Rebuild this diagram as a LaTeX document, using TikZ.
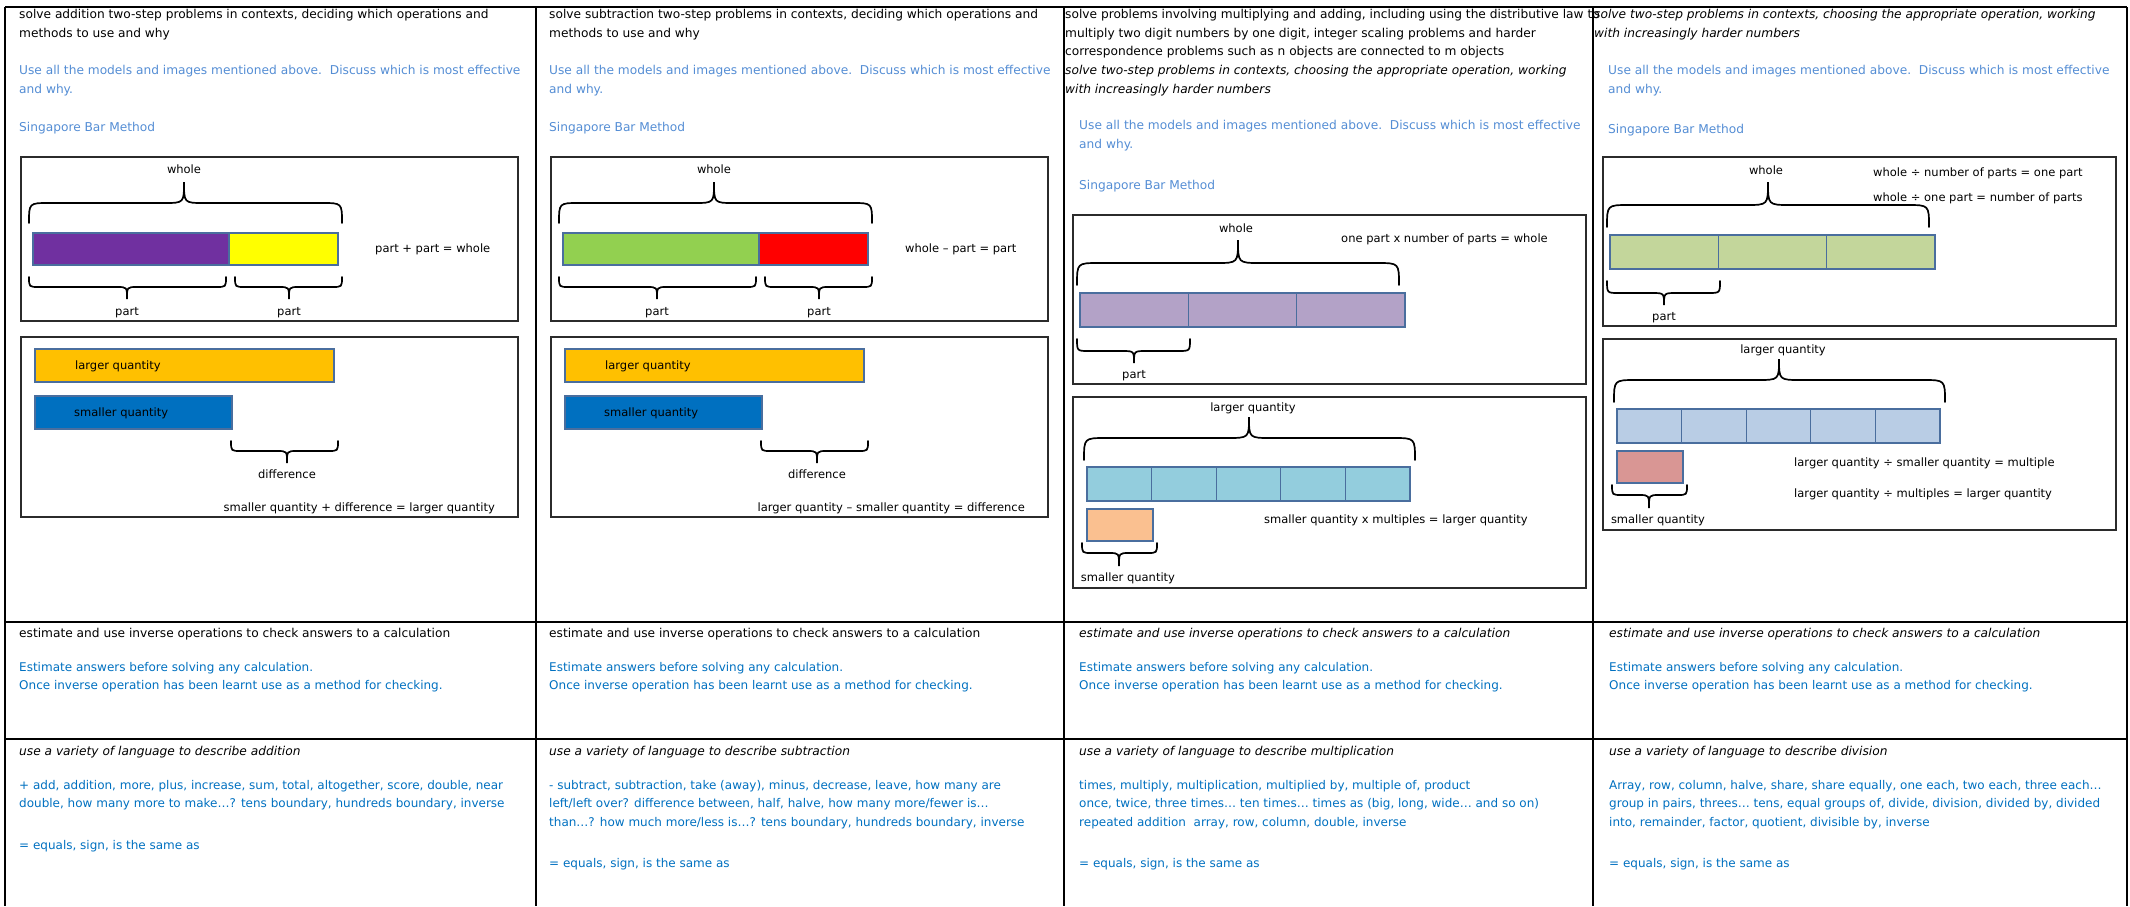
\documentclass[tikz,border=0pt]{standalone}
\usepackage{fontspec}
\setmainfont{DejaVu Sans}
\usetikzlibrary{positioning}
\definecolor{chint}{HTML}{548DD4}
\definecolor{cword}{HTML}{0070C0}
\definecolor{cedge}{HTML}{4A6E9E}
\definecolor{cpanel}{HTML}{2B2B2B}
\definecolor{cpurple}{HTML}{7030A0}
\definecolor{cyellow}{HTML}{FFFF00}
\definecolor{cgreen}{HTML}{92D050}
\definecolor{cred}{HTML}{FF0000}
\definecolor{cgold}{HTML}{FFC000}
\definecolor{cblue}{HTML}{0070C0}
\definecolor{clilac}{HTML}{B3A2C7}
\definecolor{caqua}{HTML}{93CDDD}
\definecolor{cpeach}{HTML}{FAC090}
\definecolor{csage}{HTML}{C3D69B}
\definecolor{csky}{HTML}{B9CDE5}
\definecolor{crose}{HTML}{D99694}
\tikzset{
  txt/.style={anchor=north west, align=left, inner sep=0pt, font=\fontsize{12.2}{18.6}\selectfont,
    execute at begin node=\strut},
  hdr/.style={txt, text=black},
  ital/.style={hdr, font=\fontsize{12.2}{18.6}\selectfont\itshape},
  hint/.style={txt, text=chint},
  words/.style={txt, text=cword, font=\fontsize{12}{18.6}\selectfont},
  lbl/.style={anchor=base, inner sep=0pt, font=\fontsize{11.5}{14}\selectfont},
  grid/.style={line width=2.4pt},
  panel/.style={draw=cpanel, line width=2pt},
  bar/.style={draw=cedge, line width=1.3pt},
  brc/.style={line width=1.7pt, line cap=round},
}

\begin{document}
\begin{tikzpicture}[x=1pt, y=-1pt]
  \useasboundingbox (0,0) rectangle (2130,906);
  % \cbrace{left x}{right x}{tip x}{end y}{flat y}{tip y}
  \newcommand{\cbrace}[6]{
    \draw[brc] (#1,#4) .. controls (#1,#5) .. ({#1+abs(#5-#4)},#5) -- ({#3-abs(#5-#4)},#5)
      .. controls (#3,#5) .. (#3,#6) .. controls (#3,#5) .. ({#3+abs(#5-#4)},#5)
      -- ({#2-abs(#5-#4)},#5) .. controls (#2,#5) .. (#2,#4);}
  % \addsubpanel{shift}{prefix}{left fill}{right fill}{part equation}{difference equation}
  \newcommand{\addsubpanel}[6]{
    \begin{scope}[shift={(#1,0)}]
      \draw[panel] (21,157) rectangle (518,321);
      \node[lbl] (#2whole) at (184,173) {whole};
      \cbrace{29}{342}{184}{223}{203}{182}
      \draw[bar, fill=#3] (33,233) rectangle (229,265);
      \draw[bar, fill=#4] (229,233) rectangle (338,265);
      \cbrace{29}{226}{127}{277}{287}{299}
      \cbrace{235}{342}{289}{277}{287}{299}
      \node[lbl] (#2partA) at (127,315) {part};
      \node[lbl] (#2partB) at (289,315) {part};
      \node[lbl, anchor=base west] (#2eqA) at (375,252) {#5};
      \draw[panel] (21,337) rectangle (518,517);
      \draw[bar, fill=cgold] (35,349) rectangle (334,382);
      \draw[bar, fill=cblue] (35,396) rectangle (232,429);
      \node[lbl, anchor=base west] (#2large) at (75,369) {larger quantity};
      \node[lbl, anchor=base west] (#2small) at (74,416) {smaller quantity};
      \cbrace{231}{338}{287}{441}{451}{463}
      \node[lbl] (#2diff) at (287,478) {difference};
      \node[lbl, anchor=base east] (#2eqB) at (495,511) {#6};
    \end{scope}}
  % \muldivpanel{shift}{prefix}{whole bar}{multiple bar}{small bar}
  \newcommand{\muldivpanel}[5]{
    \begin{scope}[shift={#1}]
      \draw[panel] (1073,215) rectangle (1586,384);
      \node[lbl] (#2whole) at (1236,232) {whole};
      \cbrace{1077}{1399}{1238}{285}{263}{240}
      \foreach \i in {0,1,2} \draw[bar, fill=#3] ({1080+\i*108.33},293) rectangle ++(108.33,34);
      \cbrace{1077}{1190}{1134}{339}{351}{363}
      \node[lbl] (#2part) at (1134,378) {part};
      \draw[panel] (1073,397) rectangle (1586,588);
      \node[lbl] (#2large) at (1253,411) {larger quantity};
      \cbrace{1084}{1415}{1249}{460}{438}{417}
      \foreach \i in {0,...,4} \draw[bar, fill=#4] ({1087+\i*64.6},467) rectangle ++(64.6,34);
      \draw[bar, fill=#5] (1087,509) rectangle (1153,541);
      \cbrace{1082}{1157}{1119}{543}{553}{566}
      \node[lbl] (#2small) at (1128,581) {smaller quantity};
    \end{scope}}

  % table rules
  \draw[grid] (5,7) -- (2127,7);
  \draw[grid] (5,622) -- (2127,622);
  \draw[grid] (5,739) -- (2127,739);
  \foreach \x in {5,536,1064,1593,2127} \draw[grid] (\x,7) -- (\x,906);

  % top row: headers
  \node[hdr] (h1) at (19,9) {solve addition two-step problems in contexts, deciding which operations and\\methods to use and why};
  \node[hdr] (h2) at (549,9) {solve subtraction two-step problems in contexts, deciding which operations and\\methods to use and why};
  \node[hdr] (h3) at (1065,9) {solve problems involving multiplying and adding, including using the distributive law to\\multiply two digit numbers by one digit, integer scaling problems and harder\\correspondence problems such as n objects are connected to m objects};
  \node[ital] (h3b) at (1065,65) {solve two-step problems in contexts, choosing the appropriate operation, working\\with increasingly harder numbers};
  \node[ital] (h4) at (1594,9) {solve two-step problems in contexts, choosing the appropriate operation, working\\with increasingly harder numbers};

  \node[hint] (u1) at (19,65) {Use all the models and images mentioned above.\ \ Discuss which is most effective\\and why.};
  \node[hint] (u2) at (549,65) {Use all the models and images mentioned above.\ \ Discuss which is most effective\\and why.};
  \node[hint] (u3) at (1079,120) {Use all the models and images mentioned above.\ \ Discuss which is most effective\\and why.};
  \node[hint] (u4) at (1608,65) {Use all the models and images mentioned above.\ \ Discuss which is most effective\\and why.};
  \node[hint] (s1) at (19,118) {Singapore Bar Method};
  \node[hint] (s2) at (549,118) {Singapore Bar Method};
  \node[hint] (s3) at (1079,176) {Singapore Bar Method};
  \node[hint] (s4) at (1608,120) {Singapore Bar Method};

  % bar models
  \addsubpanel{0}{a}{cpurple}{cyellow}{part + part = whole}{smaller quantity + difference = larger quantity}
  \addsubpanel{530}{b}{cgreen}{cred}{whole – part = part}{larger quantity – smaller quantity = difference}
  \muldivpanel{(0,0)}{c}{clilac}{caqua}{cpeach}
  \muldivpanel{(530,-58)}{d}{csage}{csky}{crose}
  \node[lbl, anchor=base west] (ceqA) at (1341,242) {one part x number of parts = whole};
  \node[lbl, anchor=base west] (ceqB) at (1264,523) {smaller quantity x multiples = larger quantity};
  \node[lbl, anchor=base west] (deqA) at (1873,176) {whole ÷ number of parts = one part};
  \node[lbl, anchor=base west] (deqB) at (1873,201) {whole ÷ one part = number of parts};
  \node[lbl, anchor=base west] (deqC) at (1794,466) {larger quantity ÷ smaller quantity = multiple};
  \node[lbl, anchor=base west] (deqD) at (1794,497) {larger quantity ÷ multiples = larger quantity};

  % middle row: estimating
  \foreach \x/\n/\s in {19/e1/hdr, 549/e2/hdr, 1079/e3/ital, 1609/e4/ital} {
    \node[\s] (\n) at (\x,624) {estimate and use inverse operations to check answers to a calculation};
    \node[words] (\n w) at (\x,662) {Estimate answers before solving any calculation.\\Once inverse operation has been learnt use as a method for checking.};
  }

  % bottom row: vocabulary
  \node[ital] (v1) at (19,742) {use a variety of language to describe addition};
  \node[ital] (v2) at (549,742) {use a variety of language to describe subtraction};
  \node[ital] (v3) at (1079,742) {use a variety of language to describe multiplication};
  \node[ital] (v4) at (1609,742) {use a variety of language to describe division};
  \node[words] (w1) at (19,780) {+ add, addition, more, plus, increase, sum, total, altogether, score, double, near\\double, how many more to make…? tens boundary, hundreds boundary, inverse};
  \node[words] (w2) at (549,780) {- subtract, subtraction, take (away), minus, decrease, leave, how many are\\left/left over? difference between, half, halve, how many more/fewer is…\\than…? how much more/less is…? tens boundary, hundreds boundary, inverse};
  \node[words] (w3) at (1079,780) {times, multiply, multiplication, multiplied by, multiple of, product\\once, twice, three times… ten times… times as (big, long, wide… and so on)\\repeated addition\ \ array, row, column, double, inverse};
  \node[words] (w4) at (1609,780) {Array, row, column, halve, share, share equally, one each, two each, three each…\\group in pairs, threes… tens, equal groups of, divide, division, divided by, divided\\into, remainder, factor, quotient, divisible by, inverse};
  \node[words] (q1) at (19,836) {= equals, sign, is the same as};
  \node[words] (q2) at (549,854) {= equals, sign, is the same as};
  \node[words] (q3) at (1079,854) {= equals, sign, is the same as};
  \node[words] (q4) at (1609,854) {= equals, sign, is the same as};
\end{tikzpicture}
\end{document}
